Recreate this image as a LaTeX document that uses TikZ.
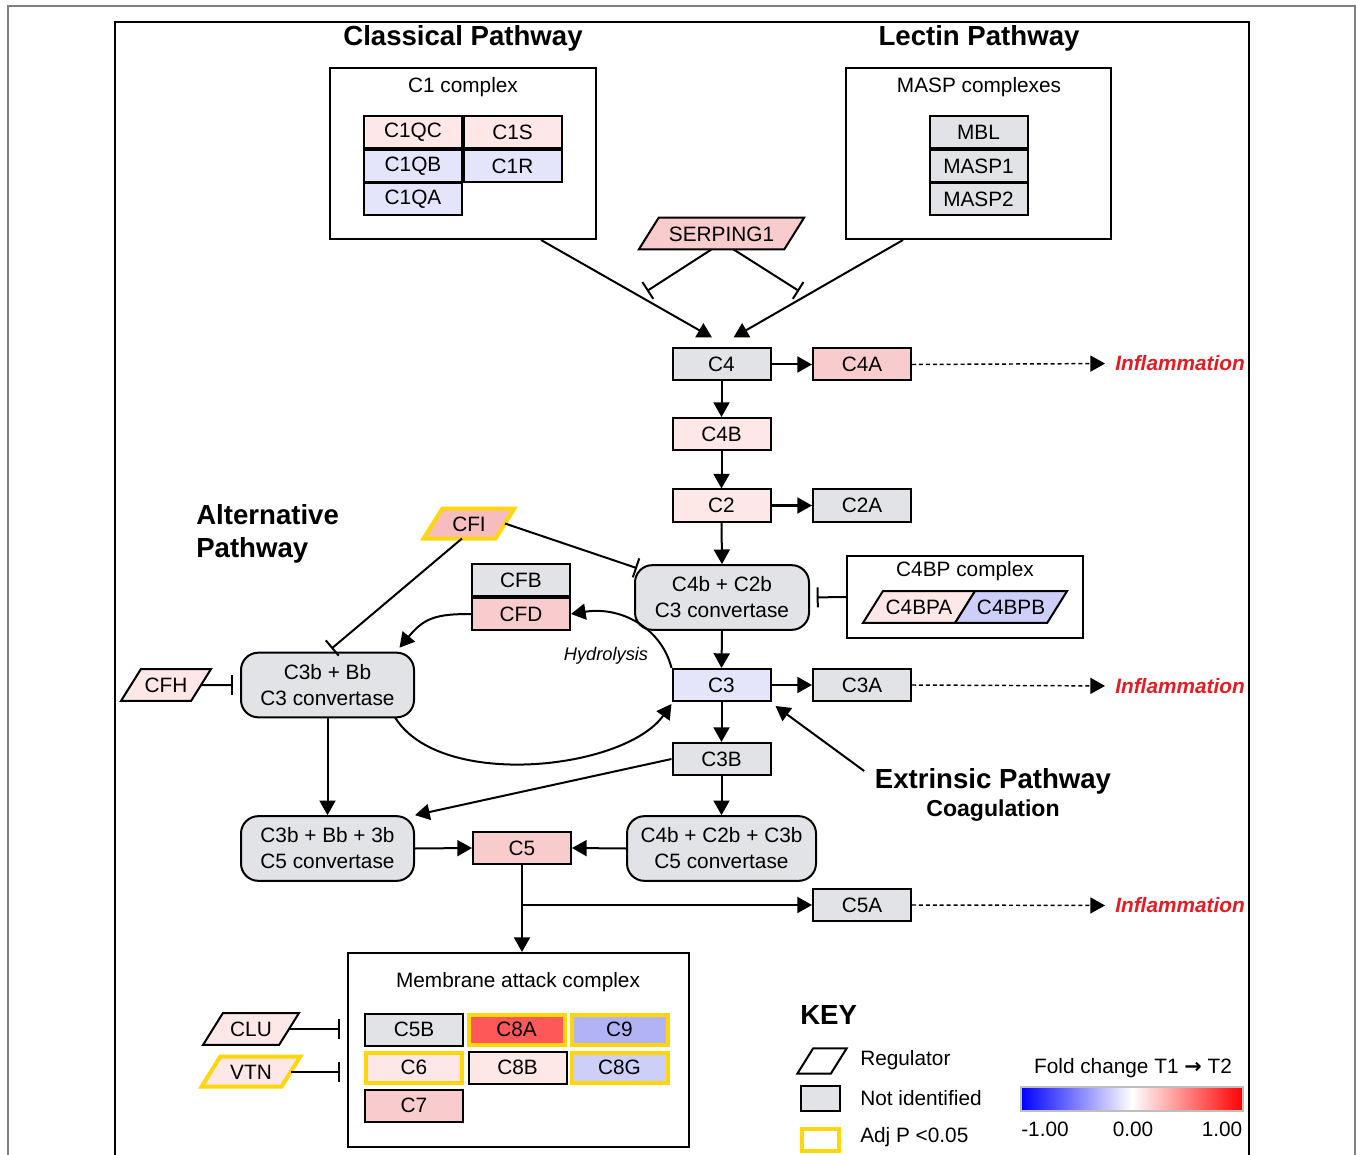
\documentclass[tikz,border=0pt]{standalone}
\usepackage{fontspec}
\setmainfont{Liberation Sans}
\newfontfamily\arrowfont{DejaVu Sans}
\usetikzlibrary{shapes.geometric, arrows.meta, calc}

\definecolor{notid}{RGB}{225,227,230}
\definecolor{pkA}{RGB}{253,231,231}
\definecolor{pkB}{RGB}{248,204,205}
\definecolor{pkC}{RGB}{246,188,190}
\definecolor{redA}{RGB}{255,88,88}
\definecolor{blA}{RGB}{228,229,250}
\definecolor{blB}{RGB}{205,207,248}
\definecolor{blC}{RGB}{178,178,246}
\definecolor{adjp}{RGB}{255,214,10}
\definecolor{inflred}{RGB}{228,28,36}

\begin{document}
\begin{tikzpicture}[x=0.75pt,y=0.75pt,yscale=-1,xscale=1,
  every node/.style={font=\fontsize{15.6}{19}\selectfont},
  gene/.style={draw, line width=1.5pt, minimum width=73.5pt, minimum height=24pt, inner sep=0pt},
  sig/.style={draw=adjp, line width=3pt, minimum width=72pt, minimum height=22.5pt},
  conv/.style={draw, line width=1.5pt, rounded corners=13pt, fill=notid, align=center, minimum height=48.5pt, font=\fontsize{15.6}{19.5}\selectfont},
  cplx/.style={draw, line width=1.5pt, inner sep=0pt},
  reg/.style={trapezium, trapezium left angle=58, trapezium right angle=122, trapezium stretches body=true, draw, line width=1.5pt, text height=11.5pt, text depth=0pt, inner ysep=6.2pt, inner xsep=1pt, outer sep=0pt},
  arr/.style={line width=1.5pt, -{Triangle[length=11pt,width=12pt]}},
  inh/.style={line width=1.5pt, -{Bar[width=15pt]}},
  infl/.style={line width=1.1pt, dash pattern=on 3pt off 2.2pt, -{Triangle[length=11pt,width=12pt]}, shorten >=7.5pt},
  title/.style={font=\bfseries\fontsize{20.7}{24.8}\selectfont},
  inflam/.style={font=\bfseries\itshape\fontsize{15.6}{19}\selectfont, text=inflred, anchor=east, inner sep=0pt}
]
\useasboundingbox (0,0) rectangle (1357,1155);
\fill[white] (0,0) rectangle (1357,1155);

%Frames
\draw[color=gray, line width=1.5pt] (7.5,1160) -- (7.5,6.5) -- (1355,6.5) -- (1355,1160);
\draw[line width=1.5pt] (115,1160) -- (115,22) -- (1249,22) -- (1249,1160);

% Text Node
\draw (463,38) node [title] (clas) {Classical Pathway};
\draw (979,38) node [title] (lect) {Lectin Pathway};
\draw (196,534) node [title, anchor=west, align=left, inner sep=0pt] (alt) {Alternative\\Pathway};
\draw (993,781) node [title] (ext) {Extrinsic Pathway};
\draw (993,811) node [font=\bfseries\fontsize{17.3}{20}\selectfont] (coag) {Coagulation};

%C1 complex
\draw (463,153.5) node [cplx, minimum width=199.5pt, minimum height=128.25pt] (c1cx) {};
\draw (463,87) node (c1lab) {C1 complex};
\draw (413,132) node [gene, fill=pkA] (c1qc) {C1QC};
\draw (512.5,132) node [gene, fill=pkA] (c1s) {C1S};
\draw (413,166) node [gene, fill=blA] (c1qb) {C1QB};
\draw (512.5,166) node [gene, fill=blA] (c1r) {C1R};
\draw (413,199.5) node [gene, fill=blA] (c1qa) {C1QA};

%MASP complexes
\draw (978.5,153.5) node [cplx, minimum width=198.75pt, minimum height=128.25pt] (maspcx) {};
\draw (979,87) node (masplab) {MASP complexes};
\draw (978.5,132) node [gene, fill=notid] (mbl) {MBL};
\draw (978.5,166) node [gene, fill=notid] (masp1) {MASP1};
\draw (978.5,199.5) node [gene, fill=notid] (masp2) {MASP2};

%Regulators
\draw (721.5,233.5) node [reg, fill=pkB, minimum width=124pt] (serp) {SERPING1};
\draw (469,523.5) node [reg, fill=pkC, draw=adjp, line width=3pt, minimum width=68pt, inner ysep=5.5pt] (cfi) {CFI};
\draw (166,685) node [reg, fill=pkA, minimum width=67.5pt] (cfh) {CFH};
\draw (251,1029) node [reg, fill=pkA, minimum width=72pt] (clu) {CLU};
\draw (251,1071.5) node [reg, fill=pkA, draw=adjp, line width=3pt, minimum width=74pt, inner ysep=5.5pt] (vtn) {VTN};

%Cascade
\draw (721.5,364.5) node [gene, fill=notid] (c4) {C4};
\draw (862,364.5) node [gene, fill=pkB] (c4a) {C4A};
\draw (721.5,434) node [gene, fill=pkA] (c4b) {C4B};
\draw (721.5,505.5) node [gene, fill=pkA] (c2) {C2};
\draw (862,505.5) node [gene, fill=notid] (c2a) {C2A};
\draw (722,597.5) node [conv, minimum width=130.5pt] (c4c2) {C4b + C2b\\C3 convertase};
\draw (721.5,685) node [gene, fill=blA] (c3) {C3};
\draw (862,685) node [gene, fill=notid] (c3a) {C3A};
\draw (721.5,759) node [gene, fill=notid] (c3b) {C3B};
\draw (721.5,848.5) node [conv, minimum width=141.75pt] (c5r) {C4b + C2b + C3b\\C5 convertase};
\draw (522,848) node [gene, fill=pkB] (c5) {C5};
\draw (327.5,848.5) node [conv, minimum width=129.75pt] (c5l) {C3b + Bb + 3b\\C5 convertase};
\draw (327.5,685) node [conv, minimum width=129.75pt] (c3bb) {C3b + Bb\\C3 convertase};
\draw (521,580) node [gene, fill=notid] (cfb) {CFB};
\draw (521,614) node [gene, fill=pkB] (cfd) {CFD};
\draw (862,905) node [gene, fill=notid] (c5a) {C5A};

%C4BP complex
\draw (965,597) node [cplx, minimum width=177pt, minimum height=61.5pt] (c4bpcx) {};
\draw (965,571) node (c4bplab) {C4BP complex};
\draw (919,607) node [reg, fill=pkA, minimum width=84pt] (c4bpa) {C4BPA};
\draw (c4bpa.bottom right corner) node [reg, fill=blB, minimum width=84pt, anchor=bottom left corner] (c4bpb) {C4BPB};

% Text Node
\draw (1245,363.5) node [inflam] (inf1) {Inflammation};
\draw (1245,686) node [inflam] (inf2) {Inflammation};
\draw (1245,905.5) node [inflam] (inf3) {Inflammation};
\draw (606,656) node [font=\itshape\fontsize{13.7}{16}\selectfont] (hyd) {Hydrolysis};

%Membrane attack complex
\draw (518.5,1050) node [cplx, minimum width=255.75pt, minimum height=145.5pt] (mac) {};
\draw (518,982) node (maclab) {Membrane attack complex};
\draw (414,1029.5) node [gene, fill=notid] (c5b) {C5B};
\draw (516.5,1029.5) node [gene, fill=redA, sig] (c8a) {C8A};
\draw (619.5,1029.5) node [gene, fill=blC, sig] (c9) {C9};
\draw (414,1067.5) node [gene, fill=pkA, sig] (c6) {C6};
\draw (517.5,1067.5) node [gene, fill=pkA] (c8b) {C8B};
\draw (619.5,1067.5) node [gene, fill=blB, sig] (c8g) {C8G};
\draw (414,1105.5) node [gene, fill=pkB] (c7) {C7};

%Key
\draw (800,1015) node [title, anchor=west, inner sep=0pt] (key) {KEY};
\draw (822,1061) node [reg, fill=white, minimum width=37pt, text height=7pt, inner ysep=6pt] (keyreg) {};
\draw (820.5,1098.5) node [draw, line width=1.5pt, fill=notid, minimum width=29pt, minimum height=18.75pt] (keyni) {};
\draw (820.5,1139.5) node [draw=adjp, line width=3pt, minimum width=28pt, minimum height=16.5pt] (keyadj) {};
\draw (860,1060) node [anchor=west, inner sep=0pt] (keyregt) {Regulator};
\draw (860,1098) node [anchor=west, inner sep=0pt] (keynit) {Not identified};
\draw (860,1137) node [anchor=west, inner sep=0pt] (keyadjt) {Adj P <0.05};
\draw (1133,1068) node (fold) {Fold change T1 {\arrowfont\bfseries →} T2};
\shade[left color=blue, right color=white] (1021,1087) rectangle (1132,1111);
\shade[left color=white, right color=red] (1132,1087) rectangle (1243,1111);
\draw[color=lightgray, line width=1pt] (1021,1087) rectangle (1243,1111);
\draw (1045,1129) node (lo) {-1.00};
\draw (1133,1129) node (mid) {0.00};
\draw (1222,1129) node (hi) {1.00};

%Straight Lines
\coordinate (inhL) at (647,291);
\coordinate (inhR) at (799,291);
\draw[arr] ($(c1cx.south)+(78,0)$) -- ($(c4.north)+(-9.5,-10)$);
\draw[arr] ($(maspcx.south)+(-75.5,0)$) -- ($(c4.north)+(12,-10)$);
\draw[inh] ($(serp.south)+(-10,0)$) -- (inhL);
\draw[inh] ($(serp.south)+(12,0)$) -- (inhR);
\draw[arr] (c4.east) -- (c4a.west);
\draw[infl] (c4a.east) -- (inf1.west);
\draw[arr] (c4.south) -- (c4b.north);
\draw[arr] (c4b.south) -- (c2.north);
\draw[arr] (c2.east) -- (c2a.west);
\draw[arr] (c2.south) -- (c4c2.north);
\draw[inh] (cfi.east) -- ($(c4c2.north west)+(3,4)$);
\draw[inh, shorten >=5pt] (c4bpcx.west) -- (c4c2.east);
\draw[arr] (c4c2.south) -- (c3.north);
\draw[arr] (c3.east) -- (c3a.west);
\draw[infl] (c3a.east) -- (inf2.west);
\draw[arr] (c3.south) -- (c3b.north);
\draw[arr] (c3b.south) -- (c5r.north);
\draw[arr] ($(ext.west)+(-6,-10)$) -- ($(c3.south east)+(4,4)$);
\draw[inh] ($(cfi.south)+(-7,0)$) -- ($(c3bb.north)+(4,-3)$);
\draw[inh, shorten >=5pt] (cfh.east) -- (c3bb.west);
\draw[arr] (c3bb.south) -- (c5l.north);
\draw[arr] (c3b.west) -- (c5l.north east);
\draw[arr] (c5l.east) -- (c5.west);
\draw[arr] (c5r.west) -- (c5.east);
\draw[arr] (c5.south) -- (c5.south |- mac.north);
\draw[arr] (c5.south |- c5a.west) -- (c5a.west);
\draw[infl] (c5a.east) -- (inf3.west);
\draw[inh, shorten >=5pt] (clu.east) -- (clu.east -| mac.west);
\draw[inh, shorten >=5pt] (vtn.east) -- (vtn.east -| mac.west);

%Curves
\draw[arr] (cfd.west) .. controls +(-35,0) and +(25,-30) .. ($(c3bb.north)+(72,-4)$);
\draw[arr] (c3.north west) .. controls +(-10,-40) and +(50,-8) .. (cfd.east);
\draw[arr] ($(c3bb.south east)+(-20,-1)$) .. controls +(45,73) and +(-47,66) .. ($(c3.south west)+(0,2)$);

\end{tikzpicture}
\end{document}
